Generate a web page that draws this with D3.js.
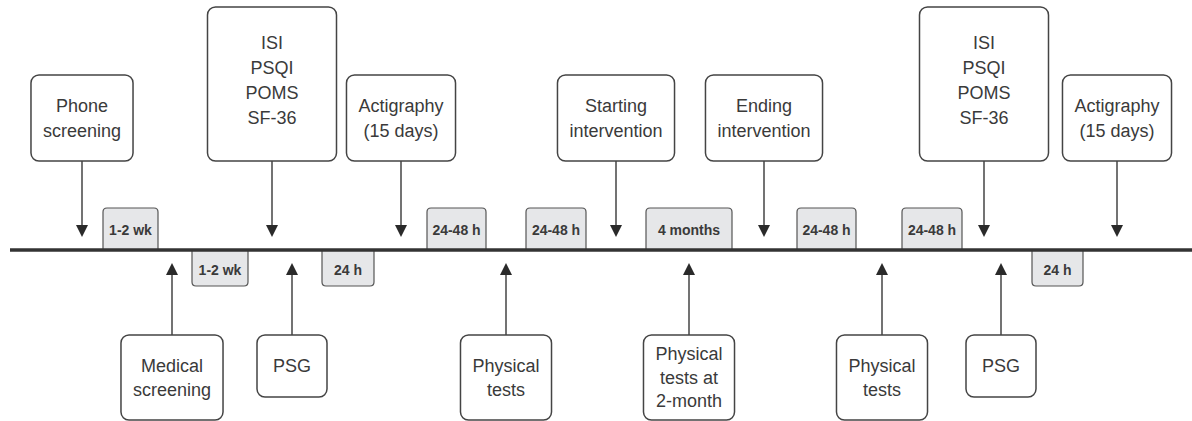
<!DOCTYPE html>
<html>
<head>
<meta charset="utf-8">
<script src="https://cdn.jsdelivr.net/npm/d3@7"></script>
<style>
  body { margin: 0; background: #fff; }
  text { font-family: "Liberation Sans", Arial, Helvetica, sans-serif; }
</style>
</head>
<body>
<script>
// events above the line (arrow points down)
let topLabels = [["Phone", "screening"], ["ISI", "PSQI", "POMS", "SF-36"], ["Actigraphy", "(15 days)"],
                 ["Starting", "intervention"], ["Ending", "intervention"], ["ISI", "PSQI", "POMS", "SF-36"],
                 ["Actigraphy", "(15 days)"]];
let topAt = [82, 272, 401, 616, 764, 984, 1117];

// events below the line (arrow points up)
let bottomLabels = [["Medical", "screening"], ["PSG"], ["Physical", "tests"],
                    ["Physical", "tests at", "2-month"], ["Physical", "tests"], ["PSG"]];
let bottomAt = [172, 292, 506, 689, 882, 1001];

// interval tags
let durTopLabels = ["1-2 wk", "24-48 h", "24-48 h", "4 months", "24-48 h", "24-48 h"];
let durTopStart = [103, 427, 526, 646, 797, 902];
let durTopEnd = [158, 486, 586, 732, 856, 962];
let durBotLabels = ["1-2 wk", "24 h", "24 h"];
let durBotStart = [192, 322, 1032];
let durBotEnd = [248, 374, 1083];

let width = 1192, height = 421, lineY = 250;
let ink = "#3a3a3a";

let x = d3.scaleLinear().domain([0, 1192]).range([0, width]);

let svg = d3.select("body").append("svg")
    .attr("width", width)
    .attr("height", height);

// tag with only the outer corners rounded, open on the timeline side
function tagPath(x0, x1, yBase, yOuter, r) {
  let p = d3.path();
  let s = yOuter < yBase ? 1 : -1;
  p.moveTo(x0, yBase);
  p.lineTo(x0, yOuter + s * r);
  p.quadraticCurveTo(x0, yOuter, x0 + r, yOuter);
  p.lineTo(x1 - r, yOuter);
  p.quadraticCurveTo(x1, yOuter, x1, yOuter + s * r);
  p.lineTo(x1, yBase);
  return p.toString();
}

function durations(labels, starts, ends, above) {
  let g = svg.append("g");
  labels.forEach(function(d, i) {
    let x0 = x(starts[i]), x1 = x(ends[i]);
    g.append("path")
      .attr("d", tagPath(x0, x1, lineY, above ? 208 : 286, 4))
      .attr("fill", "#e6e7e9")
      .attr("stroke", "#555").attr("stroke-width", 1.2);
    g.append("text")
      .attr("x", (x0 + x1) / 2)
      .attr("y", above ? 230 : 270)
      .attr("dy", "0.35em")
      .attr("text-anchor", "middle")
      .attr("font-size", 14).attr("font-weight", "bold")
      .attr("fill", ink)
      .text(d);
  });
}
durations(durTopLabels, durTopStart, durTopEnd, true);
durations(durBotLabels, durBotStart, durBotEnd, false);

// main timeline
svg.append("line")
  .attr("x1", 10).attr("x2", width)
  .attr("y1", lineY).attr("y2", lineY)
  .attr("stroke", "#333").attr("stroke-width", 3.5);

function heightFor(n, above) {
  if (above) return n > 3 ? 154 : 86;
  return n === 1 ? 62 : 85;
}

function events(labels, at, above) {
  let g = svg.append("g");
  labels.forEach(function(lines, i) {
    let cx = x(at[i]);
    let h = heightFor(lines.length, above);
    let y0 = above ? 161 - h : 335;
    let box = g.append("g");
    let rect = box.append("rect");
    let lh = above ? 25 : 23.5;
    let shift = lines.length > 3 ? -4 : 0;
    let mid = y0 + h / 2 + shift;
    let t = box.append("text")
      .attr("text-anchor", "middle")
      .attr("font-size", 18)
      .attr("fill", ink);
    lines.forEach(function(s, j) {
      t.append("tspan")
        .attr("x", cx)
        .attr("y", mid + (j - (lines.length - 1) / 2) * lh)
        .attr("dy", "0.35em")
        .text(s);
    });
    let tw = t.node().getBBox().width;
    let w = Math.max(tw + 24, lines.length > 3 ? 129 : 70);
    rect.attr("x", cx - w / 2).attr("y", y0)
      .attr("width", w).attr("height", h)
      .attr("rx", 8)
      .attr("fill", "#fff")
      .attr("stroke", "#444").attr("stroke-width", 1.5);

    // arrow
    let tip = above ? 237 : 263;
    let base = above ? 225 : 275;
    g.append("line")
      .attr("x1", cx).attr("x2", cx)
      .attr("y1", above ? 161 : 335).attr("y2", base)
      .attr("stroke", "#444").attr("stroke-width", 1.5);
    g.append("path")
      .attr("d", "M" + (cx - 6) + "," + base + "L" + (cx + 6) + "," + base + "L" + cx + "," + tip + "Z")
      .attr("fill", "#2a2a2a");
  });
}
events(topLabels, topAt, true);
events(bottomLabels, bottomAt, false);
</script>
</body>
</html>
